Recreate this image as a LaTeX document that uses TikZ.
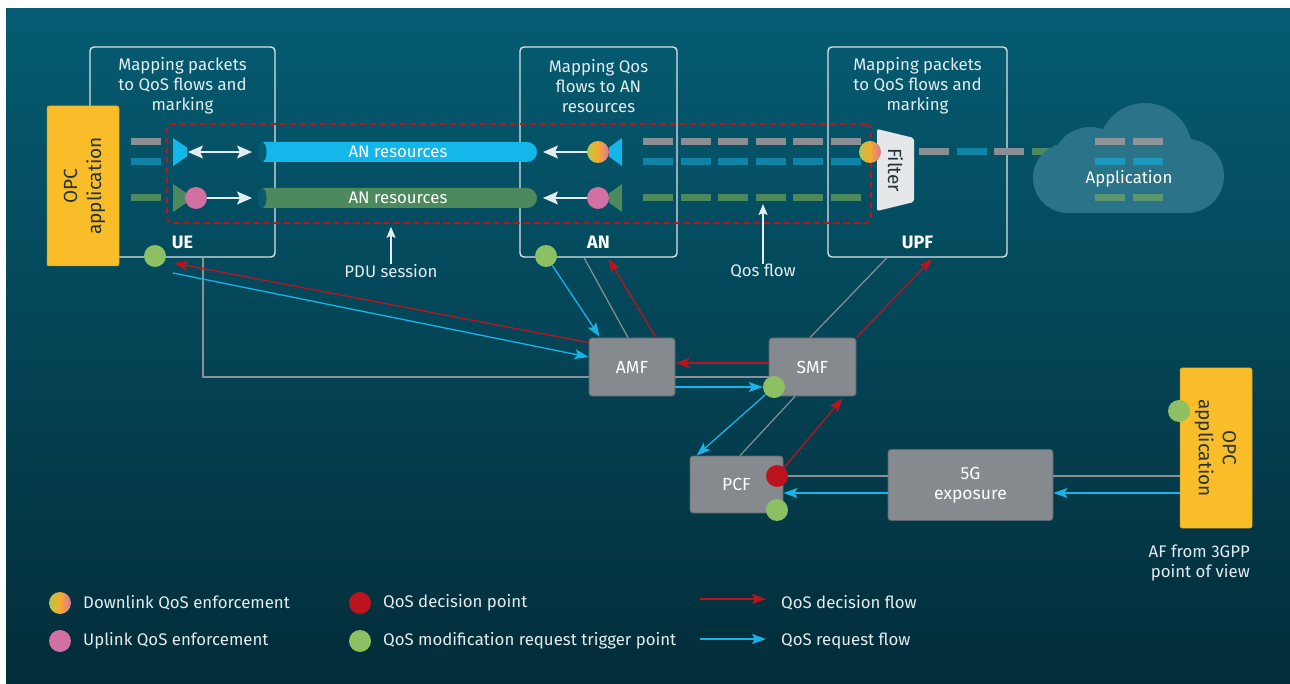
\documentclass[tikz,border=0pt]{standalone}
\usepackage{fontspec}
\setmainfont{Fira Sans}
\usetikzlibrary{arrows.meta,calc}
\definecolor{bgtop}{HTML}{055C72}
\definecolor{bgbot}{HTML}{032C39}
\definecolor{framec}{HTML}{D9E4E8}
\definecolor{redc}{HTML}{BC141F}
\definecolor{cyanc}{HTML}{18B4E6}
\definecolor{greendot}{HTML}{8DC063}
\definecolor{pinkc}{HTML}{D270A3}
\definecolor{yellowc}{HTML}{F8BD28}
\definecolor{boxgray}{HTML}{858A8F}
\definecolor{boxborder}{HTML}{5A676D}
\definecolor{linegray}{HTML}{8A9095}
\definecolor{barg}{HTML}{8A8D91}
\definecolor{bart}{HTML}{0F84A6}
\definecolor{barG}{HTML}{4D895D}
\definecolor{cbarg}{HTML}{8E9599}
\definecolor{cbart}{HTML}{1E97BF}
\definecolor{cbarG}{HTML}{5A9770}
\definecolor{tubecyan}{HTML}{13B7EA}
\definecolor{tubegreen}{HTML}{4C8A5D}
\definecolor{tubeend}{HTML}{0A5A6F}
\definecolor{filterc}{HTML}{E5E7E8}
\definecolor{cloudc}{HTML}{2B7388}
\definecolor{textc}{HTML}{E3ECEF}
\definecolor{darktext}{HTML}{22343B}
\definecolor{gyel}{HTML}{B3C84B}
\definecolor{gora}{HTML}{F4AA2C}
\definecolor{gpin}{HTML}{DA74A0}
\begin{document}
\begin{tikzpicture}[x=1pt,y=-1pt,
  font=\fontsize{16.8}{20}\selectfont,
  frame/.style={draw=framec, line width=1.4pt, rounded corners=4pt, inner sep=0pt},
  nf/.style={fill=boxgray, draw=boxborder, line width=0.8pt, rounded corners=3pt, text=white, font=\fontsize{17.5}{20}\selectfont, align=center, inner sep=0pt},
  opc/.style={fill=yellowc, draw=yellowc!85!black, line width=0.5pt, rounded corners=2pt, inner sep=0pt},
  opctxt/.style={text=darktext, align=center, inner sep=0pt, font=\fontsize{19}{24}\selectfont},
  lbl/.style={text=textc, align=center, inner sep=0pt},
  big/.style={text=white, font=\fontsize{18}{20}\selectfont\bfseries, inner sep=0pt},
  dot/.style={circle, inner sep=0pt, minimum size=22pt},
  gdot/.style={dot, fill=greendot},
  pdot/.style={dot, fill=pinkc},
  rdot/.style={dot, fill=redc},
  dldot/.style={dot, left color=gyel, right color=gpin, middle color=gora},
  redarr/.style={draw=redc, line width=1.3pt, -{Stealth[length=14pt,width=10pt,inset=3pt]}},
  bluearr/.style={draw=cyanc, line width=1.3pt, -{Stealth[length=14pt,width=10pt,inset=3pt]}},
  grayln/.style={draw=linegray, line width=1.2pt},
  whitearr/.style={draw=textc, line width=1.4pt, -{Stealth[length=15pt,width=13pt,inset=3pt]}},
  thinarr/.style={draw=textc, line width=1.4pt, -{Stealth[length=11pt,width=9pt,inset=2pt]}},
  bar/.style={line width=7pt},
]
\useasboundingbox (0,0) rectangle (1290,684);
\fill[white] (0,0) rectangle (1290,684);
\shade[top color=bgtop, bottom color=bgbot] (6,9) rectangle (1290,684);

% ---------- top frames ----------
\node[frame, minimum width=185pt, minimum height=210pt] (uebox) at (182.5,152) {};
\node[frame, minimum width=157pt, minimum height=210pt] (anbox) at (598.5,152) {};
\node[frame, minimum width=179pt, minimum height=210pt] (upfbox) at (917.5,152) {};

\node[lbl] (uetitle) at (182.5,86) {Mapping packets\\to QoS flows and\\marking};
\node[lbl] (antitle) at (598.5,86) {Mapping Qos\\flows to AN\\resources};
\node[lbl] (upftitle) at (917.5,86) {Mapping packets\\to QoS flows and\\marking};
\node[big] (uelbl) at (182.5,242) {UE};
\node[big] (anlbl) at (598.5,242) {AN};
\node[big] (upflbl) at (917.5,242) {UPF};

% left OPC application
\node[opc, minimum width=72pt, minimum height=160pt] (opcl) at (83,186) {};
\node[opctxt, rotate=90] (opcltxt) at (84.5,186) {OPC\\application};

% ---------- PDU session (dashed) ----------
\node[draw=redc, dash pattern=on 6pt off 4pt, line width=1.6pt, rounded corners=5pt, minimum width=704pt, minimum height=99pt, inner sep=0pt] (pdubox) at (519,173.5) {};

% bars left of UE
\draw[bar, barg] (131,142) -- (161,142);
\draw[bar, bart] (131,162) -- (161,162);
\draw[bar, barG] (131,198) -- (161,198);

% QoS flow dashed bars AN -> UPF
\draw[bar, barg, dash pattern=on 30pt off 7.5pt] (643,142) -- (861,142);
\draw[bar, bart, dash pattern=on 30pt off 7.5pt] (643,162) -- (861,162);
\draw[bar, barG, dash pattern=on 30pt off 7.5pt] (643,198) -- (861,198);

% UE funnels
\fill[tubecyan] (173,138) -- (187,147.5) -- (187,156.5) -- (173,166) -- cycle;
\fill[tubegreen] (173,184) -- (187,193.5) -- (187,202.5) -- (173,212) -- cycle;
% AN funnels
\fill[tubecyan] (622,138) -- (609,147.5) -- (609,156.5) -- (622,166) -- cycle;
\fill[tubegreen] (622,184) -- (609,193.5) -- (609,202.5) -- (622,212) -- cycle;

% AN resources tubes
\fill[tubecyan] (262,142) [rounded corners=10pt] -- (537,142) -- (537,162) [sharp corners] -- (262,162) -- cycle;
\fill[tubeend] (262,152) ellipse [x radius=4.5pt, y radius=10pt];
\node[text=white, inner sep=0pt] (tube1) at (398,152) {AN resources};
\fill[tubegreen] (262,188) [rounded corners=10pt] -- (537,188) -- (537,208) [sharp corners] -- (262,208) -- cycle;
\fill[tubeend] (262,198) ellipse [x radius=4.5pt, y radius=10pt];
\node[text=white, inner sep=0pt] (tube2) at (398,198) {AN resources};

% enforcement points
\node[pdot] (uepink) at (196,198) {};
\node[dldot] (andl) at (598,152) {};
\node[pdot] (anpink) at (598,198) {};
\coordinate (uedl) at (188,152);
\coordinate (uetube1) at (252,152);
\coordinate (uetube2) at (252,198);
\coordinate (antube1) at (543,152);
\coordinate (antube2) at (543,198);
\draw[whitearr, {Stealth[length=15pt,width=13pt,inset=3pt]}-{Stealth[length=15pt,width=13pt,inset=3pt]}] (uedl) -- (uetube1);
\draw[whitearr] (uepink) -- (uetube2);
\draw[whitearr] (andl) -- (antube1);
\draw[whitearr] (anpink) -- (antube2);

% UPF filter
\foreach \xa/\c in {919/barg, 957/bart, 994/barg, 1032/barG}
  \draw[bar, \c] (\xa,152) -- ++(30,0);
\fill[filterc, rounded corners=2pt] (877,129) -- (914,138) -- (914,202) -- (877,211) -- cycle;
\node[text=darktext, rotate=-90, inner sep=0pt, font=\fontsize{19}{20}\selectfont] (filter) at (895.5,170) {Filter};
\node[dldot] (upfdl) at (870,152) {};

% cloud
\fill[cloudc] (1068,178) circle[radius=35pt];
\fill[cloudc] (1090,165) circle[radius=38pt];
\fill[cloudc] (1145,150) circle[radius=47pt];
\fill[cloudc] (1187,176) circle[radius=37pt];
\fill[cloudc] (1068,165) rectangle (1187,213);
\draw[bar, cbarg] (1095,142) -- (1125,142);
\draw[bar, cbarg] (1133,142) -- (1163,142);
\draw[bar, cbart] (1095,162) -- (1125,162);
\draw[bar, cbart] (1133,162) -- (1163,162);
\draw[bar, cbarG] (1095,198) -- (1125,198);
\draw[bar, cbarG] (1133,198) -- (1163,198);
\node[text=white, inner sep=0pt] (app) at (1129,179) {Application};

% labels under
\node[lbl] (pdu) at (391,271) {PDU session};
\draw[thinarr, shorten >=3pt] (pdu.north) -- (pdu.north |- pdubox.south);
\node[lbl] (qos) at (763,271) {Qos flow};
\coordinate (qosf) at (763,204);
\draw[thinarr] (qos.north) -- (qosf);

% ---------- core nodes ----------
\node[nf, minimum width=86pt, minimum height=58pt] (amf) at (632,367) {AMF};
\node[nf, minimum width=87pt, minimum height=58pt] (smf) at (812.5,367) {SMF};
\node[nf, minimum width=93pt, minimum height=57pt] (pcf) at (736.5,484.5) {PCF};
\node[nf, minimum width=165pt, minimum height=71pt] (g5) at (970.5,485) {5G\\exposure};
\node[opc, minimum width=72pt, minimum height=160pt] (opcr) at (1216,448) {};
\node[opctxt, rotate=-90] (opcrtxt) at (1215.5,448) {OPC\\application};
\node[lbl, align=right, anchor=north east, text=textc] (af) at (1250,545) {AF from 3GPP\\point of view};

% connectors UE - AMF
\coordinate (ueg) at (203,257);
\draw[grayln] (ueg) |- ($(amf.west)+(0,10)$);
\node[gdot] (uedot) at (155,256) {};
\draw[redarr] ($(amf.north west)+(0,5)$) -- ($(uedot)+(19,7)$);
\draw[bluearr] ($(uedot)+(18,17)$) -- ($(amf.west)+(0,-10)$);

% AN - AMF
\node[gdot] (andot) at (546,256) {};
\draw[bluearr] (andot) -- ($(amf.north west)+(11,-1)$);
\draw[grayln] ($(anbox.south)+(-14.5,0)$) -- ($(amf.north)+(-4,0)$);
\draw[redarr] ($(amf.north)+(24,0)$) -- ($(anbox.south)+(10,1)$);

% AMF - SMF
\node[gdot] (smfdot) at (774,387) {};
\draw[redarr] ($(smf.west)+(0,-4)$) -- ($(amf.east)+(0,-4)$);
\draw[grayln] ($(amf.east)+(0,10)$) -- ($(smf.west)+(0,10)$);
\draw[bluearr] ($(amf.east)+(0,20)$) -- (smfdot.west);

% SMF - UPF
\draw[grayln] ($(smf.north)+(-2.5,0)$) -- ($(upfbox.south)+(-30.5,0)$);
\draw[redarr] (smf.north east) -- ($(upfbox.south)+(14.5,1)$);

% SMF - PCF
\node[rdot] (pcfred) at (777,476) {};
\node[gdot] (pcfgreen) at (777,510) {};
\draw[bluearr] (smfdot) -- ($(pcf.north west)+(7,0)$);
\draw[grayln] ($(smf.south)+(-17.5,0)$) -- ($(pcf.north)+(3.5,0)$);
\draw[redarr] (pcfred) -- ($(smf.south)+(30,2)$);

% PCF - 5G - OPC
\draw[grayln] (pcfred) -- (pcfred -| g5.west);
\draw[grayln] (pcfred -| g5.east) -- (pcfred -| opcr.west);
\coordinate (bl) at (0,493);
\draw[bluearr] (g5.west |- bl) -- (pcf.east |- bl);
\draw[bluearr] (opcr.west |- bl) -- (g5.east |- bl);
\node[gdot] (opcdot) at (1179,411) {};

% ---------- legend ----------
\node[dldot] (lg1) at (60,603) {};
\node[lbl, anchor=west] (lt1) at (83,603) {Downlink QoS enforcement};
\node[pdot] (lg2) at (60,641) {};
\node[lbl, anchor=west] (lt2) at (83,641) {Uplink QoS enforcement};
\node[rdot] (lg3) at (360,603) {};
\node[lbl, anchor=west] (lt3) at (383,603) {QoS decision point};
\node[gdot] (lg4) at (360,641) {};
\node[lbl, anchor=west] (lt4) at (383,641) {QoS modification request trigger point};
\coordinate (lr1) at (700,599);
\coordinate (lr2) at (766,599);
\draw[redarr] (lr1) -- (lr2);
\node[lbl, anchor=west] (lt5) at (781,603) {QoS decision flow};
\coordinate (lb1) at (700,639);
\coordinate (lb2) at (766,639);
\draw[bluearr] (lb1) -- (lb2);
\node[lbl, anchor=west] (lt6) at (781,641) {QoS request flow};
\end{tikzpicture}
\end{document}
